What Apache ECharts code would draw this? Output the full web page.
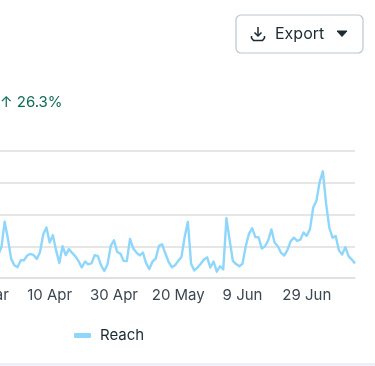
<!DOCTYPE html>
<html>
<head>
<meta charset="utf-8">
<style>html,body{margin:0;padding:0;background:#fff}#c{width:375px;height:366px}</style>
<script src="https://cdn.jsdelivr.net/npm/echarts@6/dist/echarts.min.js"></script>
</head>
<body>
<div id="c"></div>
<script>
const categories = [
'21 Mar','22 Mar','23 Mar','24 Mar','25 Mar','26 Mar','27 Mar','28 Mar','29 Mar','30 Mar','31 Mar',
'1 Apr','2 Apr','3 Apr','4 Apr','5 Apr','6 Apr','7 Apr','8 Apr','9 Apr','10 Apr','11 Apr','12 Apr','13 Apr','14 Apr','15 Apr','16 Apr','17 Apr','18 Apr','19 Apr','20 Apr','21 Apr','22 Apr','23 Apr','24 Apr','25 Apr','26 Apr','27 Apr','28 Apr','29 Apr','30 Apr',
'1 May','2 May','3 May','4 May','5 May','6 May','7 May','8 May','9 May','10 May','11 May','12 May','13 May','14 May','15 May','16 May','17 May','18 May','19 May','20 May','21 May','22 May','23 May','24 May','25 May','26 May','27 May','28 May','29 May','30 May','31 May',
'1 Jun','2 Jun','3 Jun','4 Jun','5 Jun','6 Jun','7 Jun','8 Jun','9 Jun','10 Jun','11 Jun','12 Jun','13 Jun','14 Jun','15 Jun','16 Jun','17 Jun','18 Jun','19 Jun','20 Jun','21 Jun','22 Jun','23 Jun','24 Jun','25 Jun','26 Jun','27 Jun','28 Jun','29 Jun','30 Jun',
'1 Jul','2 Jul','3 Jul','4 Jul','5 Jul','6 Jul','7 Jul','8 Jul','9 Jul','10 Jul','11 Jul','12 Jul','13 Jul','14 Jul'];
const reach = [
55,50,60,65,72,98,177,124,61,40,34,56,56,71,76,72,60,82,138,159,
112,135,87,47,100,72,91,79,68,53,33,52,43,46,72,69,40,22,43,101,
119,82,77,54,53,123,93,80,71,80,47,28,52,61,101,106,77,51,34,40,
54,66,129,177,45,24,33,45,58,65,33,52,20,37,27,188,119,54,44,37,
45,100,139,157,129,128,93,100,119,153,111,100,79,71,89,116,127,117,121,143,
133,154,222,243,303,336,235,159,127,132,87,74,97,69,58,46];
const seriesName = 'Reach';
const changeText = '↑ 26.3%';
const buttonText = 'Export';
const font = 'Inter';
const chart = echarts.init(document.getElementById('c'), null, {renderer:'canvas'});
chart.setOption({
  animation:false,
  backgroundColor:'#ffffff',
  textStyle:{fontFamily:font},
  grid:{left:-14.6,right:20,top:151,bottom:88,containLabel:false,outerBoundsMode:'none'},
  xAxis:{type:'category',boundaryGap:false,data:categories,
    axisTick:{show:false},
    axisLine:{show:true,lineStyle:{color:'#dedede',width:1.5}},
    axisLabel:{interval:19,color:'#3c4650',fontSize:15,margin:10,fontFamily:font,hideOverlap:false},
    splitLine:{show:false}},
  yAxis:{type:'value',min:0,max:400,interval:100,
    axisLabel:{show:false},axisLine:{show:false},axisTick:{show:false},
    splitLine:{lineStyle:{color:'#dedede',width:1.5}}},
  legend:{show:true,left:74,top:328,itemWidth:17,itemHeight:5,itemGap:9,icon:'roundRect',
    data:[{name:seriesName,itemStyle:{color:'#8fd6fb'}}],
    textStyle:{color:'#1c2b33',fontSize:15,fontFamily:font,padding:[0,0,0,4]},padding:0},
  series:[{type:'line',name:seriesName,data:reach,symbol:'none',smooth:false,clip:false,
    lineStyle:{color:'#8fd6fb',width:2.4,join:'round'},itemStyle:{color:'#8fd6fb'}}],
  graphic:[
    {type:'rect',silent:true,shape:{x:0,y:363,width:375,height:3},style:{fill:'#eef0f7'}},
    {type:'rect',silent:true,shape:{x:236,y:15,width:127,height:38,r:5},style:{fill:'#fff',stroke:'#bcc6cf',lineWidth:1.2}},
    {type:'polyline',silent:true,shape:{points:[[258,27],[258,36]]},style:{fill:'none',stroke:'#1c2b33',lineWidth:1.5}},
    {type:'polyline',silent:true,shape:{points:[[254.5,32.5],[258,36],[261.5,32.5]]},style:{fill:'none',stroke:'#1c2b33',lineWidth:1.5}},
    {type:'polyline',silent:true,shape:{points:[[251.5,36],[251.5,38],[253.5,40.5],[262.5,40.5],[264.5,38],[264.5,36]]},style:{fill:'none',stroke:'#1c2b33',lineWidth:1.5}},
    {type:'text',silent:true,x:275,y:34,style:{text:buttonText,fill:'#1c2b33',font:'16px '+font,textVerticalAlign:'middle'}},
    {type:'polygon',silent:true,shape:{points:[[337,31],[347,31],[342,36.5]]},style:{fill:'#1c2b33',stroke:'#1c2b33',lineWidth:1,lineJoin:'round'}},
    {type:'text',silent:true,x:0,y:102.5,style:{text:changeText,fill:'#0f6b58',font:'15px '+font,textVerticalAlign:'middle'}}
  ]
});
</script>
</body>
</html>
